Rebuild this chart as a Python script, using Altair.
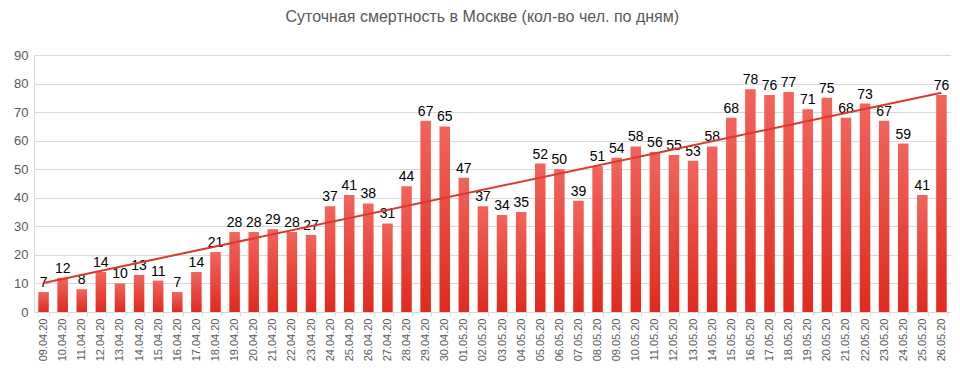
import altair as alt
import pandas as pd

dates = ["09.04.20","10.04.20","11.04.20","12.04.20","13.04.20","14.04.20","15.04.20","16.04.20",
         "17.04.20","18.04.20","19.04.20","20.04.20","21.04.20","22.04.20","23.04.20","24.04.20",
         "25.04.20","26.04.20","27.04.20","28.04.20","29.04.20","30.04.20","01.05.20","02.05.20",
         "03.05.20","04.05.20","05.05.20","06.05.20","07.05.20","08.05.20","09.05.20","10.05.20",
         "11.05.20","12.05.20","13.05.20","14.05.20","15.05.20","16.05.20","17.05.20","18.05.20",
         "19.05.20","20.05.20","21.05.20","22.05.20","23.05.20","24.05.20","25.05.20","26.05.20"]
deaths = [7,12,8,14,10,13,11,7,14,21,28,28,29,28,27,37,41,38,31,44,67,65,47,37,34,35,52,50,39,51,
          54,58,56,55,53,58,68,78,76,77,71,75,68,73,67,59,41,76]

df = pd.DataFrame({"date": dates, "deaths": deaths, "idx": list(range(len(dates)))})

xband = alt.X("date:O", sort=dates, title=None,
              scale=alt.Scale(paddingInner=0.45, paddingOuter=0.225),
              axis=alt.Axis(labelAngle=270, labelFontSize=11, labelColor="#595959",
                            labelFont="Liberation Sans", tickBand="extent", tickSize=4,
                            tickColor="#d9d9d9", domainColor="#d9d9d9", labelPadding=2))
yq = alt.Y("deaths:Q", title=None,
           scale=alt.Scale(domain=[0, 90], nice=False),
           axis=alt.Axis(values=list(range(0, 91, 10)), labelFontSize=13, labelColor="#595959",
                         labelFont="Liberation Sans", gridColor="#d9d9d9", domain=False,
                         ticks=False, labelPadding=6))

grad = alt.Gradient(gradient="linear",
                    stops=[alt.GradientStop(color="#f2645b", offset=0),
                           alt.GradientStop(color="#e02a1f", offset=1)],
                    x1=0, x2=0, y1=0, y2=1)

base = alt.Chart(df)
bars = base.mark_bar(color=grad).encode(x=xband, y=yq)
labels = base.mark_text(dy=-9, fontSize=14, font="Liberation Sans", color="#000000").encode(
    x=alt.X("date:O", sort=dates), y=yq, text="deaths:Q")
left = alt.layer(bars, labels)

trend = base.transform_regression("idx", "deaths").mark_line(color="#d9392e", strokeWidth=2).encode(
    x=alt.X("idx:Q", scale=alt.Scale(domain=[-0.5, len(dates) - 0.5], nice=False, zero=False), axis=None),
    y=yq)

chart = alt.layer(left, trend).resolve_scale(x="independent").properties(
    width=917, height=257,
    padding={"left": 5, "top": 1, "right": 0, "bottom": 0},
    title=alt.TitleParams("Суточная смертность в Москве (кол-во чел. по дням)",
                          fontSize=16, font="Liberation Sans", fontWeight="normal",
                          color="#595959", anchor="middle", frame="bounds", offset=24)
).configure_view(stroke="#d9d9d9")

chart.save("out.html", embed_options={"renderer": "svg", "actions": False})
